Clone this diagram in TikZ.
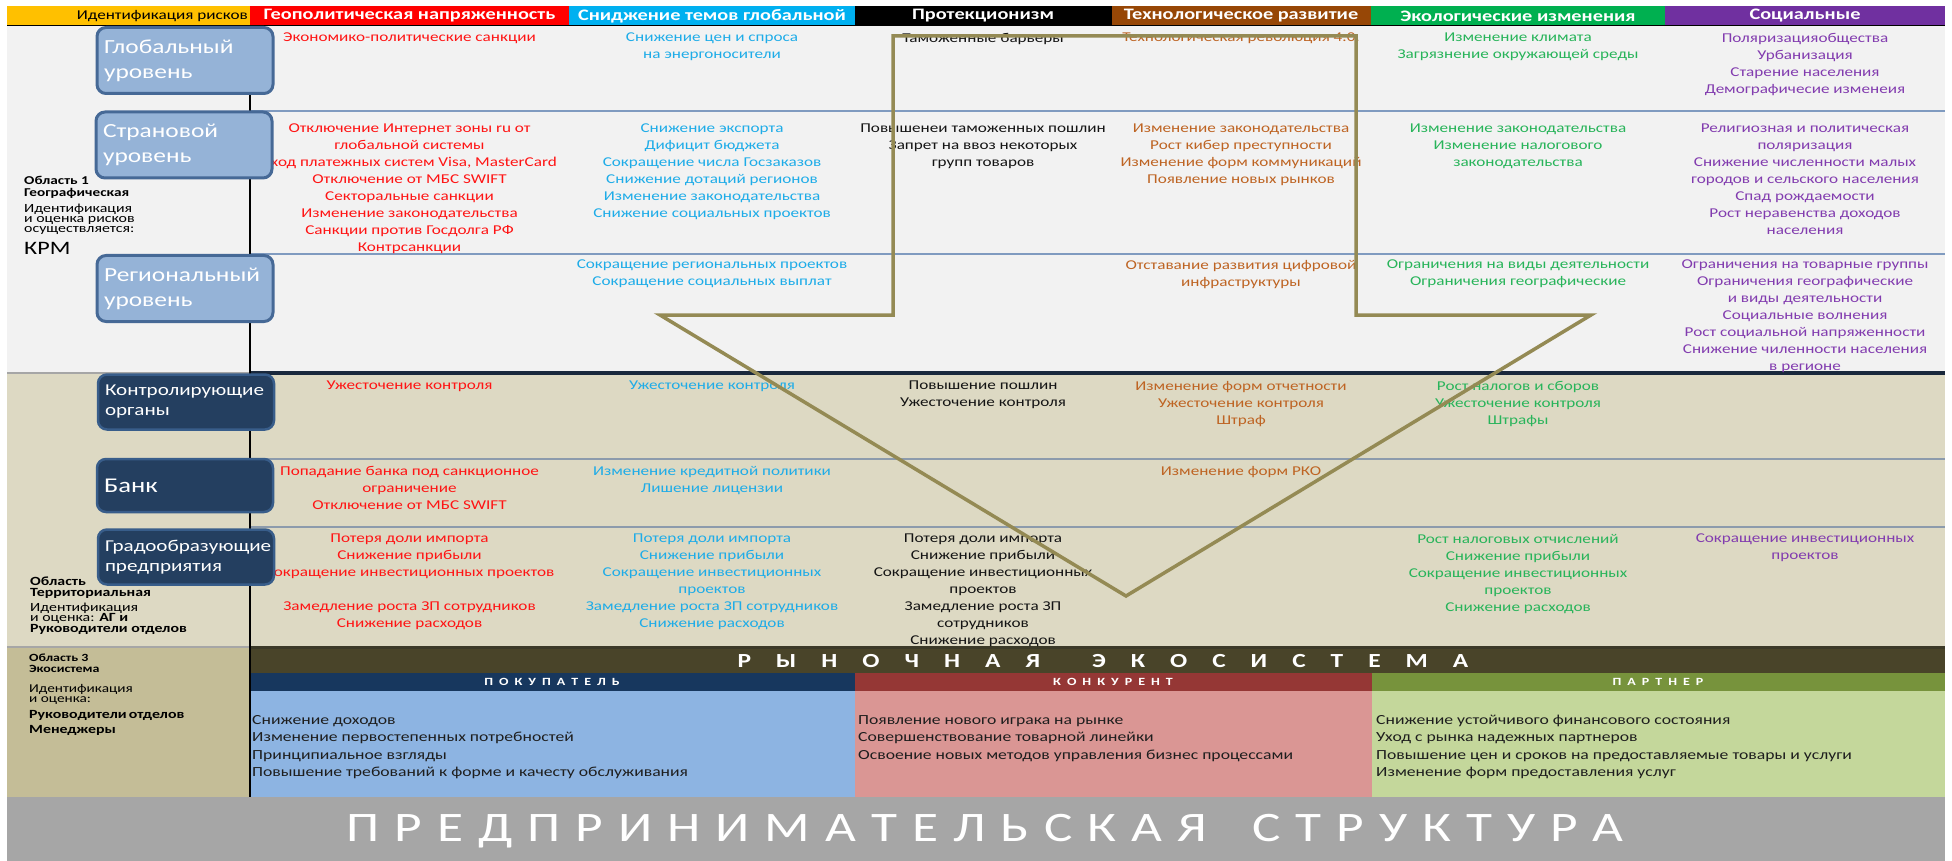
\documentclass[tikz,border=0pt]{standalone}
\usepackage{fontspec}
\setmainfont{Carlito}[FakeStretch=1.27]
\hyphenpenalty=10000
\exhyphenpenalty=10000
\makeatletter
\newcommand\spacedword[2]{\def\sw@gap{#1}\sw@loop#2\relax\unskip}
\def\sw@loop#1{\ifx\relax#1\else#1\hskip\sw@gap\relax\expandafter\sw@loop\fi}
\makeatother
\definecolor{bgA}{HTML}{F2F2F2}
\definecolor{bgB}{HTML}{DDD9C3}
\definecolor{bgC}{HTML}{C4BD97}
\definecolor{ecoBar}{HTML}{494429}
\definecolor{grayBand}{HTML}{A6A6A6}
\definecolor{hYel}{HTML}{FFC000}
\definecolor{hRed}{HTML}{FF0000}
\definecolor{hBlue}{HTML}{00B0F0}
\definecolor{hBrown}{HTML}{974706}
\definecolor{hGreen}{HTML}{00B050}
\definecolor{hPurple}{HTML}{7030A0}
\definecolor{tRed}{RGB}{255,20,20}
\definecolor{tBlue}{RGB}{30,172,232}
\definecolor{tBlack}{RGB}{20,20,20}
\definecolor{tBrown}{RGB}{190,100,35}
\definecolor{tGreen}{RGB}{40,180,90}
\definecolor{tPurple}{RGB}{130,60,175}
\definecolor{lboxF}{HTML}{95B3D7}
\definecolor{lboxD}{RGB}{70,105,150}
\definecolor{dboxF}{HTML}{243F60}
\definecolor{dboxD}{RGB}{56,93,138}
\definecolor{sepA}{RGB}{128,155,192}
\definecolor{sepB}{RGB}{140,155,172}
\definecolor{darkSepA}{RGB}{25,40,60}
\definecolor{darkSepB}{RGB}{60,58,40}
\definecolor{arrowOl}{RGB}{148,138,84}
\definecolor{buyH}{HTML}{17375E}
\definecolor{buyB}{HTML}{8DB4E2}
\definecolor{conH}{HTML}{953735}
\definecolor{conB}{HTML}{DA9694}
\definecolor{parH}{HTML}{77933C}
\definecolor{parB}{HTML}{C4D79B}
\definecolor{botT}{RGB}{30,30,30}
\tikzset{
  ct/.style={align=center, inner sep=0pt, anchor=north, font=\fontsize{13.5}{17}\selectfont},
  hd/.style={text=white, inner sep=0pt, font=\fontsize{16}{18}\selectfont\bfseries},
  lbox/.style={rounded corners=9pt, fill=lboxF, draw=lboxD, line width=3pt, minimum width=176pt, minimum height=66pt, text width=162pt, inner xsep=7pt, inner ysep=0pt, align=left, text=white, font=\fontsize{20}{25}\selectfont},
  dbox/.style={rounded corners=9pt, fill=dboxF, draw=dboxD, line width=2.5pt, minimum width=176pt, minimum height=55pt, text width=162pt, inner xsep=7pt, inner ysep=0pt, align=left, text=white, font=\fontsize{16.6}{20}\selectfont},
  lbl/.style={anchor=west, inner sep=0pt, align=left, text=black},
  bot/.style={anchor=west, inner sep=0pt, align=left, text=botT, font=\fontsize{13.9}{17.4}\selectfont},
  subh/.style={text=white, inner sep=0pt, font=\fontsize{11}{12}\selectfont\bfseries},
  arrowline/.style={draw=arrowOl, line width=3.5pt, line join=miter},
}
\begin{document}
\begin{tikzpicture}[x=1pt,y=-1pt]
\useasboundingbox (0,0) rectangle (1952,861);
\fill[white] (0,0) rectangle (1952,861);
% backgrounds
\fill[bgA] (7,26) rectangle (1945,373);
\fill[bgB] (7,373) rectangle (1945,647);
\fill[bgC] (7,647) rectangle (250,797);
\fill[ecoBar] (250,647) rectangle (1945,673);
\fill[buyH] (250,673) rectangle (855,691);
\fill[conH] (855,673) rectangle (1372,691);
\fill[parH] (1372,673) rectangle (1945,691);
\fill[buyB] (250,691) rectangle (855,797);
\fill[conB] (855,691) rectangle (1372,797);
\fill[parB] (1372,691) rectangle (1945,797);
\fill[grayBand] (7,797) rectangle (1945,861);
% header
\fill[hYel] (7,6) rectangle (250,26);
\fill[hRed] (250,6) rectangle (569,26);
\fill[hBlue] (569,6) rectangle (855,26);
\fill[black] (855,6) rectangle (1112,26);
\fill[hBrown] (1112,6) rectangle (1371,26);
\fill[hGreen] (1371,6) rectangle (1665,26);
\fill[hPurple] (1665,6) rectangle (1945,26);
\draw[black, line width=1pt] (7,26) -- (1945,26);
\node[anchor=east, inner sep=0pt, font=\fontsize{13.5}{15}\selectfont] (hid) at (248,16) {Идентификация рисков};
\node[hd] (h1) at (409.5,16) {Геополитическая напряженность};
\node[hd] (h2) at (712,16) {Сниджение темов глобальной};
\node[hd] (h3) at (983,16) {Протекционизм};
\node[hd] (h4) at (1241,16) {Технологическое развитие};
\node[hd] (h5) at (1518,16) {Экологические изменения};
\node[hd] (h6) at (1805,16) {Социальные};
% separators
\draw[sepA, line width=1.3pt] (250,111) -- (1945,111);
\draw[sepA, line width=1.3pt] (250,254) -- (1945,254);
\draw[sepB, line width=2.5pt] (250,459) -- (1945,459);
\draw[sepB, line width=2.5pt] (250,527) -- (1945,527);
\draw[gray!70, line width=1.5pt] (7,373) -- (250,373);
\draw[gray!70, line width=1.5pt] (7,647) -- (250,647);
\draw[darkSepA, line width=3.5pt] (250,373) -- (1945,373);
\draw[darkSepB, line width=3pt] (250,647) -- (1945,647);
\draw[black, line width=1.3pt] (250,26) -- (250,797);
% row 1 global
\node[ct,text=tRed] (g1) at (409.5,33) {Экономико-политические санкции};
\node[ct,text=tBlue] (g2) at (712,33) {Снижение цен и спроса\\на энергоносители};
\node[ct,text=tBlack] (g3) at (983,33) {Таможенные барьеры};
\node[ct,text=tBrown] (g4) at (1241,33) {Технологическая революция 4.0.};
\node[ct,text=tGreen] (g5) at (1518,33) {Изменение климата\\Загрязнение окружающей среды};
\node[ct,text=tPurple] (g6) at (1805,33) {Поляризацияобщества\\Урбанизация\\Старение населения\\Демографичесие изменеия};
% row 2 country
\node[ct,text=tRed] (s1) at (409.5,124) {Отключение Интернет зоны ru от\\глобальной системы\\Уход платежных систем Visa, MasterCard\\Отключение от МБС SWIFT\\Секторальные санкции\\Изменение законодательства\\Санкции против Госдолга РФ\\Контрсанкции};
\node[ct,text=tBlue] (s2) at (712,124) {Снижение экспорта\\Дифицит бюджета\\Сокращение числа Госзаказов\\Снижение дотаций регионов\\Изменение законодательства\\Снижение социальных проектов};
\node[ct,text=tBlack] (s3) at (983,124) {Повышенеи таможенных пошлин\\Запрет на ввоз некоторых\\групп товаров};
\node[ct,text=tBrown] (s4) at (1241,124) {Изменение законодательства\\Рост кибер преступности\\Изменение форм коммуникаций\\Появление новых рынков};
\node[ct,text=tGreen] (s5) at (1518,124) {Изменение законодательства\\Изменение налогового\\законодательства};
\node[ct,text=tPurple] (s6) at (1805,124) {Религиозная и политическая\\поляризация\\Снижение численности малых\\городов и сельского населения\\Спад рождаемости\\Рост неравенства доходов\\населения};
% row 3 regional
\node[ct,text=tBlue] (r2) at (712,260) {Сокращение региональных проектов\\Сокращение социальных выплат};
\node[ct,text=tBrown] (r4) at (1241,260) {Отставание развития цифровой\\инфраструктуры};
\node[ct,text=tGreen] (r5) at (1518,260) {Ограничения на виды деятельности\\Ограничения географические};
\node[ct,text=tPurple] (r6) at (1805,260) {Ограничения на товарные группы\\Ограничения географические\\и виды деятельности\\Социальные волнения\\Рост социальной напряженности\\Снижение чиленности населения\\в регионе};
% area 2 row 1
\node[ct,text=tRed] (k1) at (409.5,381) {Ужесточение контроля};
\node[ct,text=tBlue] (k2) at (712,381) {Ужесточение контроля};
\node[ct,text=tBlack] (k3) at (983,381) {Повышение пошлин\\Ужесточение контроля};
\node[ct,text=tBrown] (k4) at (1241,381) {Изменение форм отчетности\\Ужесточение контроля\\Штраф};
\node[ct,text=tGreen] (k5) at (1518,381) {Рост налогов и сборов\\Ужесточение контроля\\Штрафы};
% bank row
\node[ct,text=tRed] (b1) at (409.5,466) {Попадание банка под санкционное\\ограничение\\Отключение от МБС SWIFT};
\node[ct,text=tBlue] (b2) at (712,466) {Изменение кредитной политики\\Лишение лицензии};
\node[ct,text=tBrown] (b4) at (1241,466) {Изменение форм РКО};
% enterprises row
\node[ct,text=tRed] (p1) at (409.5,534) {Потеря доли импорта\\Снижение прибыли\\Сокращение инвестиционных проектов\\[17pt]Замедление роста ЗП сотрудников\\Снижение расходов};
\node[ct,text=tBlue] (p2) at (712,534) {Потеря доли импорта\\Снижение прибыли\\Сокращение инвестиционных\\проектов\\Замедление роста ЗП сотрудников\\Снижение расходов};
\node[ct,text=tBlack] (p3) at (983,534) {Потеря доли импорта\\Снижение прибыли\\Сокращение инвестиционных\\проектов\\Замедление роста ЗП\\сотрудников\\Снижение расходов};
\node[ct,text=tGreen] (p5) at (1518,534) {Рост налоговых отчислений\\Снижение прибыли\\Сокращение инвестиционных\\проектов\\Снижение расходов};
\node[ct,text=tPurple] (p6) at (1805,534) {Сокращение инвестиционных\\проектов};
% level boxes
\node[lbox] (bGlob) at (185,60.5) {Глобальный\\уровень};
\node[lbox] (bCountry) at (184,145) {Страновой\\уровень};
\node[lbox] (bRegion) at (185,288.5) {Региональный\\уровень};
\node[dbox] (bCtrl) at (186,402) {Контролирующие\\органы};
\node[dbox, minimum height=53pt, font=\fontsize{21}{22}\selectfont] (bBank) at (185,485.5) {Банк};
\node[dbox] (bCity) at (186,557) {Градообразующие\\предприятия};
% left labels
\node[lbl, font=\fontsize{12}{12}\selectfont\bfseries] (a1t) at (24,187) {Область 1\\Географическая};
\node[lbl, font=\fontsize{12.5}{10}\selectfont] (a1i) at (24,219) {Идентификация\\и оценка рисков\\осуществляется:};
\node[lbl, font=\fontsize{19}{20}\selectfont] (a1k) at (24,248) {КРМ};
\node[lbl, font=\fontsize{12.5}{11}\selectfont\bfseries] (a2t) at (30,587.5) {Область\\Территориальная};
\node[lbl, font=\fontsize{12.5}{10.5}\selectfont] (a2i) at (30,618.5) {Идентификация\\и оценка: \textbf{АГ и}\\\textbf{Руководители отделов}};
\node[lbl, font=\fontsize{11}{11}\selectfont\bfseries] (a3t) at (29,663.5) {Область 3\\Экосистема};
\node[lbl, font=\fontsize{12}{10}\selectfont] (a3i) at (29,694) {Идентификация\\и оценка:};
\node[lbl, font=\fontsize{12.5}{15}\selectfont\bfseries] (a3r) at (29,722.5) {Руководители\,отделов\\Менеджеры};
% ecosystem
\node[text=white, inner sep=0pt, font=\fontsize{20}{22}\selectfont\bfseries] (eco) at (1103,661) {\spacedword{25pt}{РЫНОЧНАЯ}\hskip52pt\spacedword{25pt}{ЭКОСИСТЕМА}};
\node[subh] (sbuy) at (552,682) {\spacedword{6pt}{ПОКУПАТЕЛЬ}};
\node[subh] (scon) at (1113,682) {\spacedword{6pt}{КОНКУРЕНТ}};
\node[subh] (spar) at (1658,682) {\spacedword{6pt}{ПАРТНЕР}};
\node[bot] (tbuy) at (252,747) {Снижение доходов\\Изменение первостепенных потребностей\\Принципиальное взгляды\\Повышение требований к форме и качесту обслуживания};
\node[bot] (tcon) at (858,738.5) {Появление нового играка на рынке\\Совершенствование товарной линейки\\Освоение новых методов управления бизнес процессами};
\node[bot] (tpar) at (1376,747) {Снижение устойчивого финансового состояния\\Уход с рынка надежных партнеров\\Повышение цен и сроков на предоставляемые товары и услуги\\Изменение форм предоставления услуг};
% bottom title
\node[text=white, inner sep=0pt, font=\fontsize{42}{44}\selectfont] (title) at (985,831) {\spacedword{15pt}{ПРЕДПРИНИМАТЕЛЬСКАЯ}\hskip45pt\spacedword{15pt}{СТРУКТУРА}};
% big arrow outline
\draw[arrowline] (893,36) -- (1356,36) -- (1356,315) -- (1591,315) -- (1126,596) -- (660,315) -- (893,315) -- cycle;
\end{tikzpicture}
\end{document}
